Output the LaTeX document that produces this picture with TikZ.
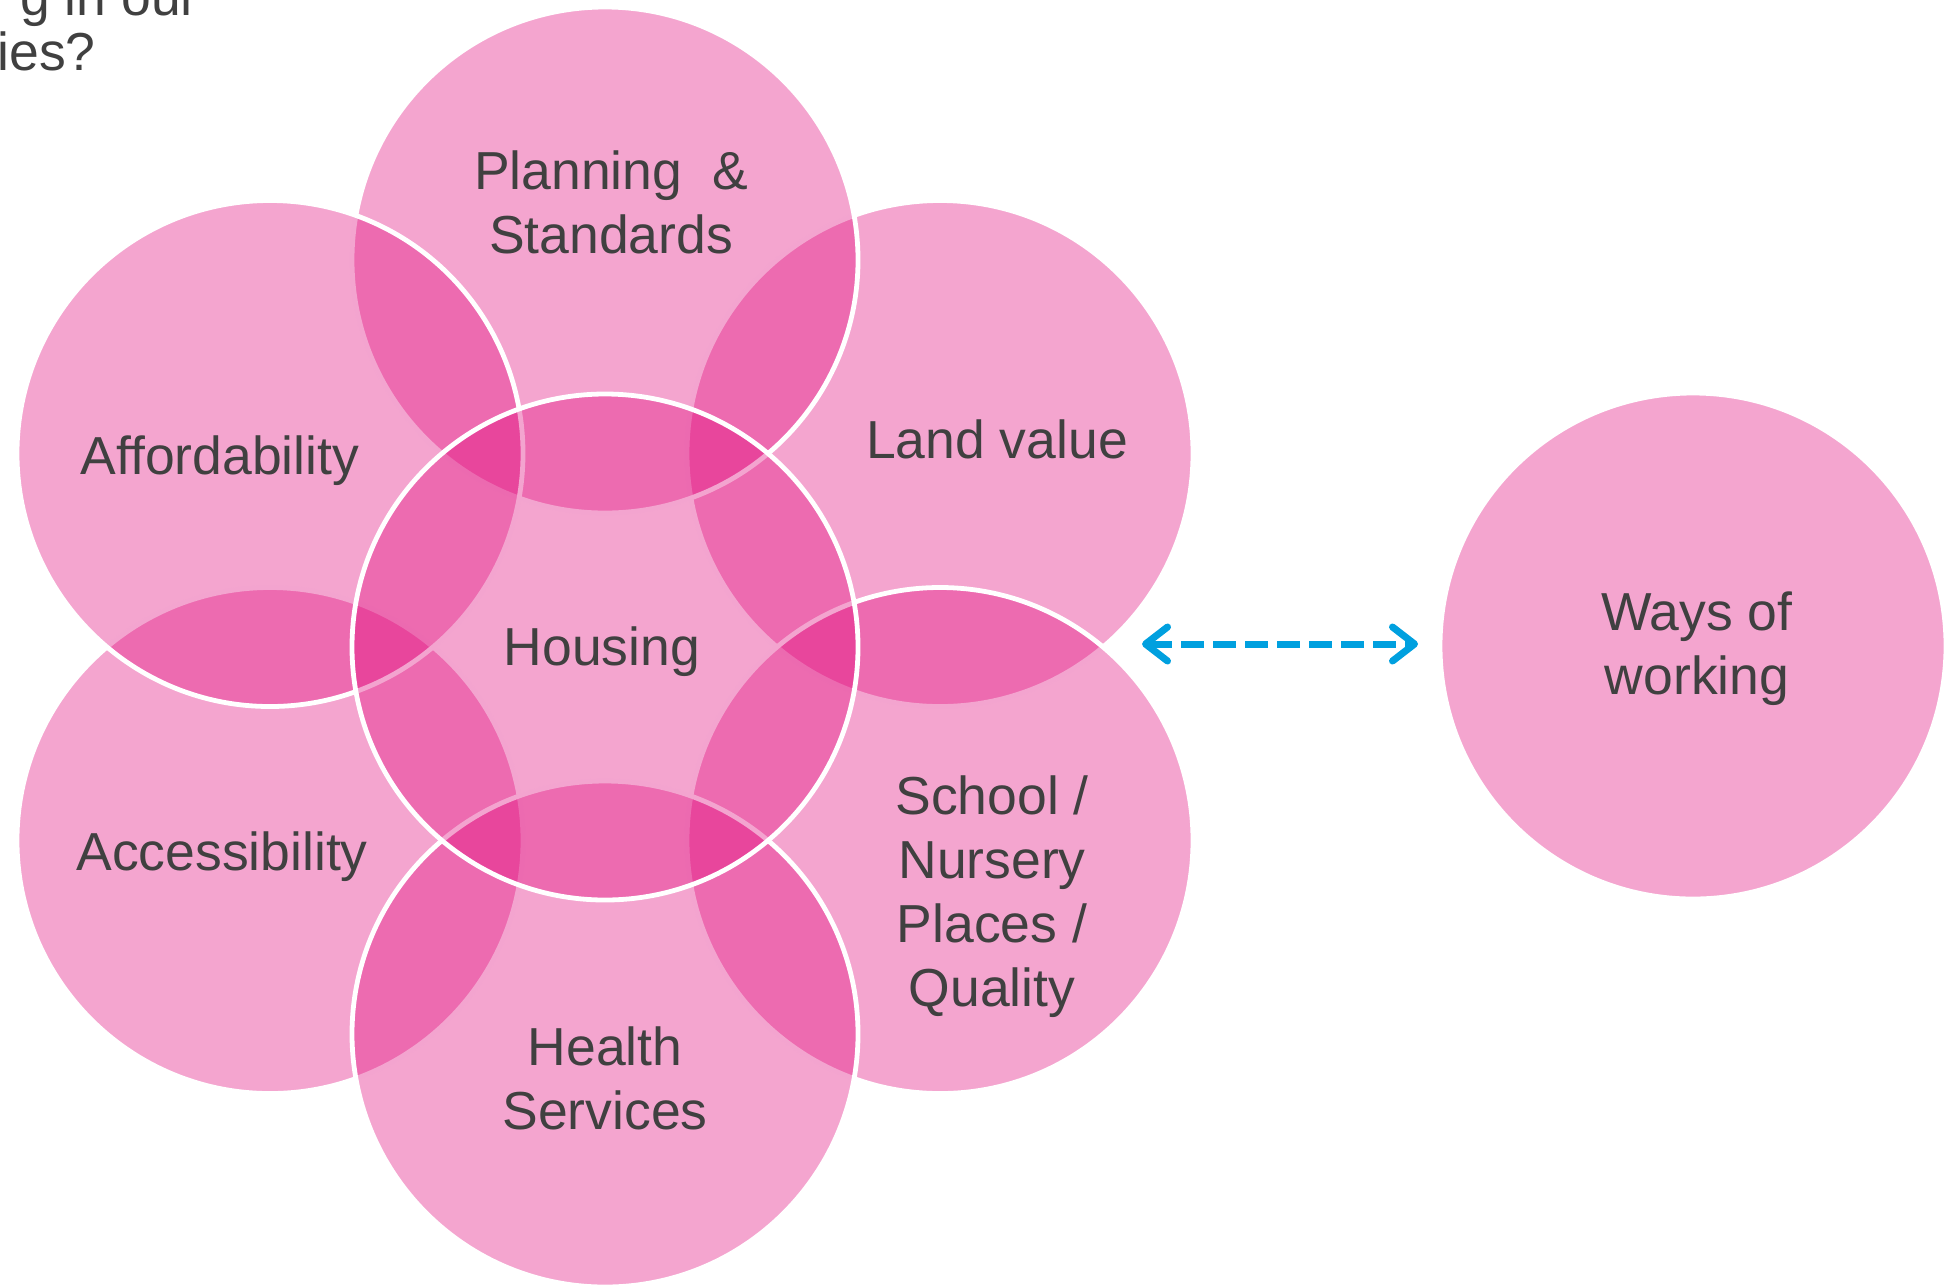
\documentclass[tikz,border=0pt]{standalone}
\usepackage{fontspec}
\setmainfont{Liberation Sans}
\usetikzlibrary{arrows.meta}
\definecolor{mag}{RGB}{224,5,122}
\definecolor{txtgray}{RGB}{64,64,64}
\definecolor{arrowblue}{RGB}{0,160,223}
\begin{document}
\begin{tikzpicture}[x=0.5pt,y=-0.5pt,
  bub/.style={circle, inner sep=0pt, outer sep=0pt, minimum size=253pt,
    fill=mag, fill opacity=0.36, draw=white, line width=2.4pt},
  lbl/.style={text=txtgray, font=\fontsize{26.75}{32}\selectfont,
    align=center, anchor=base, inner sep=0pt},
  dbl/.style={draw=arrowblue, line width=3.5pt, dash pattern=on 11.5pt off 4.5pt,
    {Straight Barb[length=11pt, width=17pt, line cap=round, line join=round]}-{Straight Barb[length=11pt, width=17pt, line cap=round, line join=round]}},
]
\useasboundingbox (0,0) rectangle (1957,1286);
% circles, in drawing order
\node[bub] (land)   at (940,453.5) {};
\node[bub] (school) at (940,840.5) {};
\node[bub] (access) at (270,840.5) {};
\node[bub] (health) at (605,1034) {};
\node[bub] (plan)   at (605,260) {};
\node[bub] (afford) at (270,453.5) {};
\node[bub] (housing) at (605,647) {};
\node[bub] (ways)   at (1693,646) {};
% title fragment
\begin{scope}
\clip (0,0) rectangle (1957,1286);
\node[lbl, anchor=base west] (title1) at (20,15) {g in our};
\node[lbl, anchor=base west] (title2) at (-3,70) {ies?};
\end{scope}
% labels (base anchor = baseline of the last line)
\node[lbl] (tplan) at (611,253) {Planning\ \ \&\\Standards};
\node[lbl] (tafford) at (220,474) {Affordability};
\node[lbl] (tland) at (997,458) {Land value};
\node[lbl] (thousing) at (602,665) {Housing};
\node[lbl] (taccess) at (222,870) {Accessibility};
\node[lbl] (tschool) at (992,1006) {School /\\Nursery\\Places /\\Quality};
\node[lbl] (thealth) at (605,1129) {Health\\Services};
\node[lbl] (tways) at (1697,694) {Ways of\\working};
% arrow
\coordinate (aL) at (1142,644);
\draw[dbl, shorten >=11pt] (aL) -- (aL -| ways.west);
\end{tikzpicture}
\end{document}
